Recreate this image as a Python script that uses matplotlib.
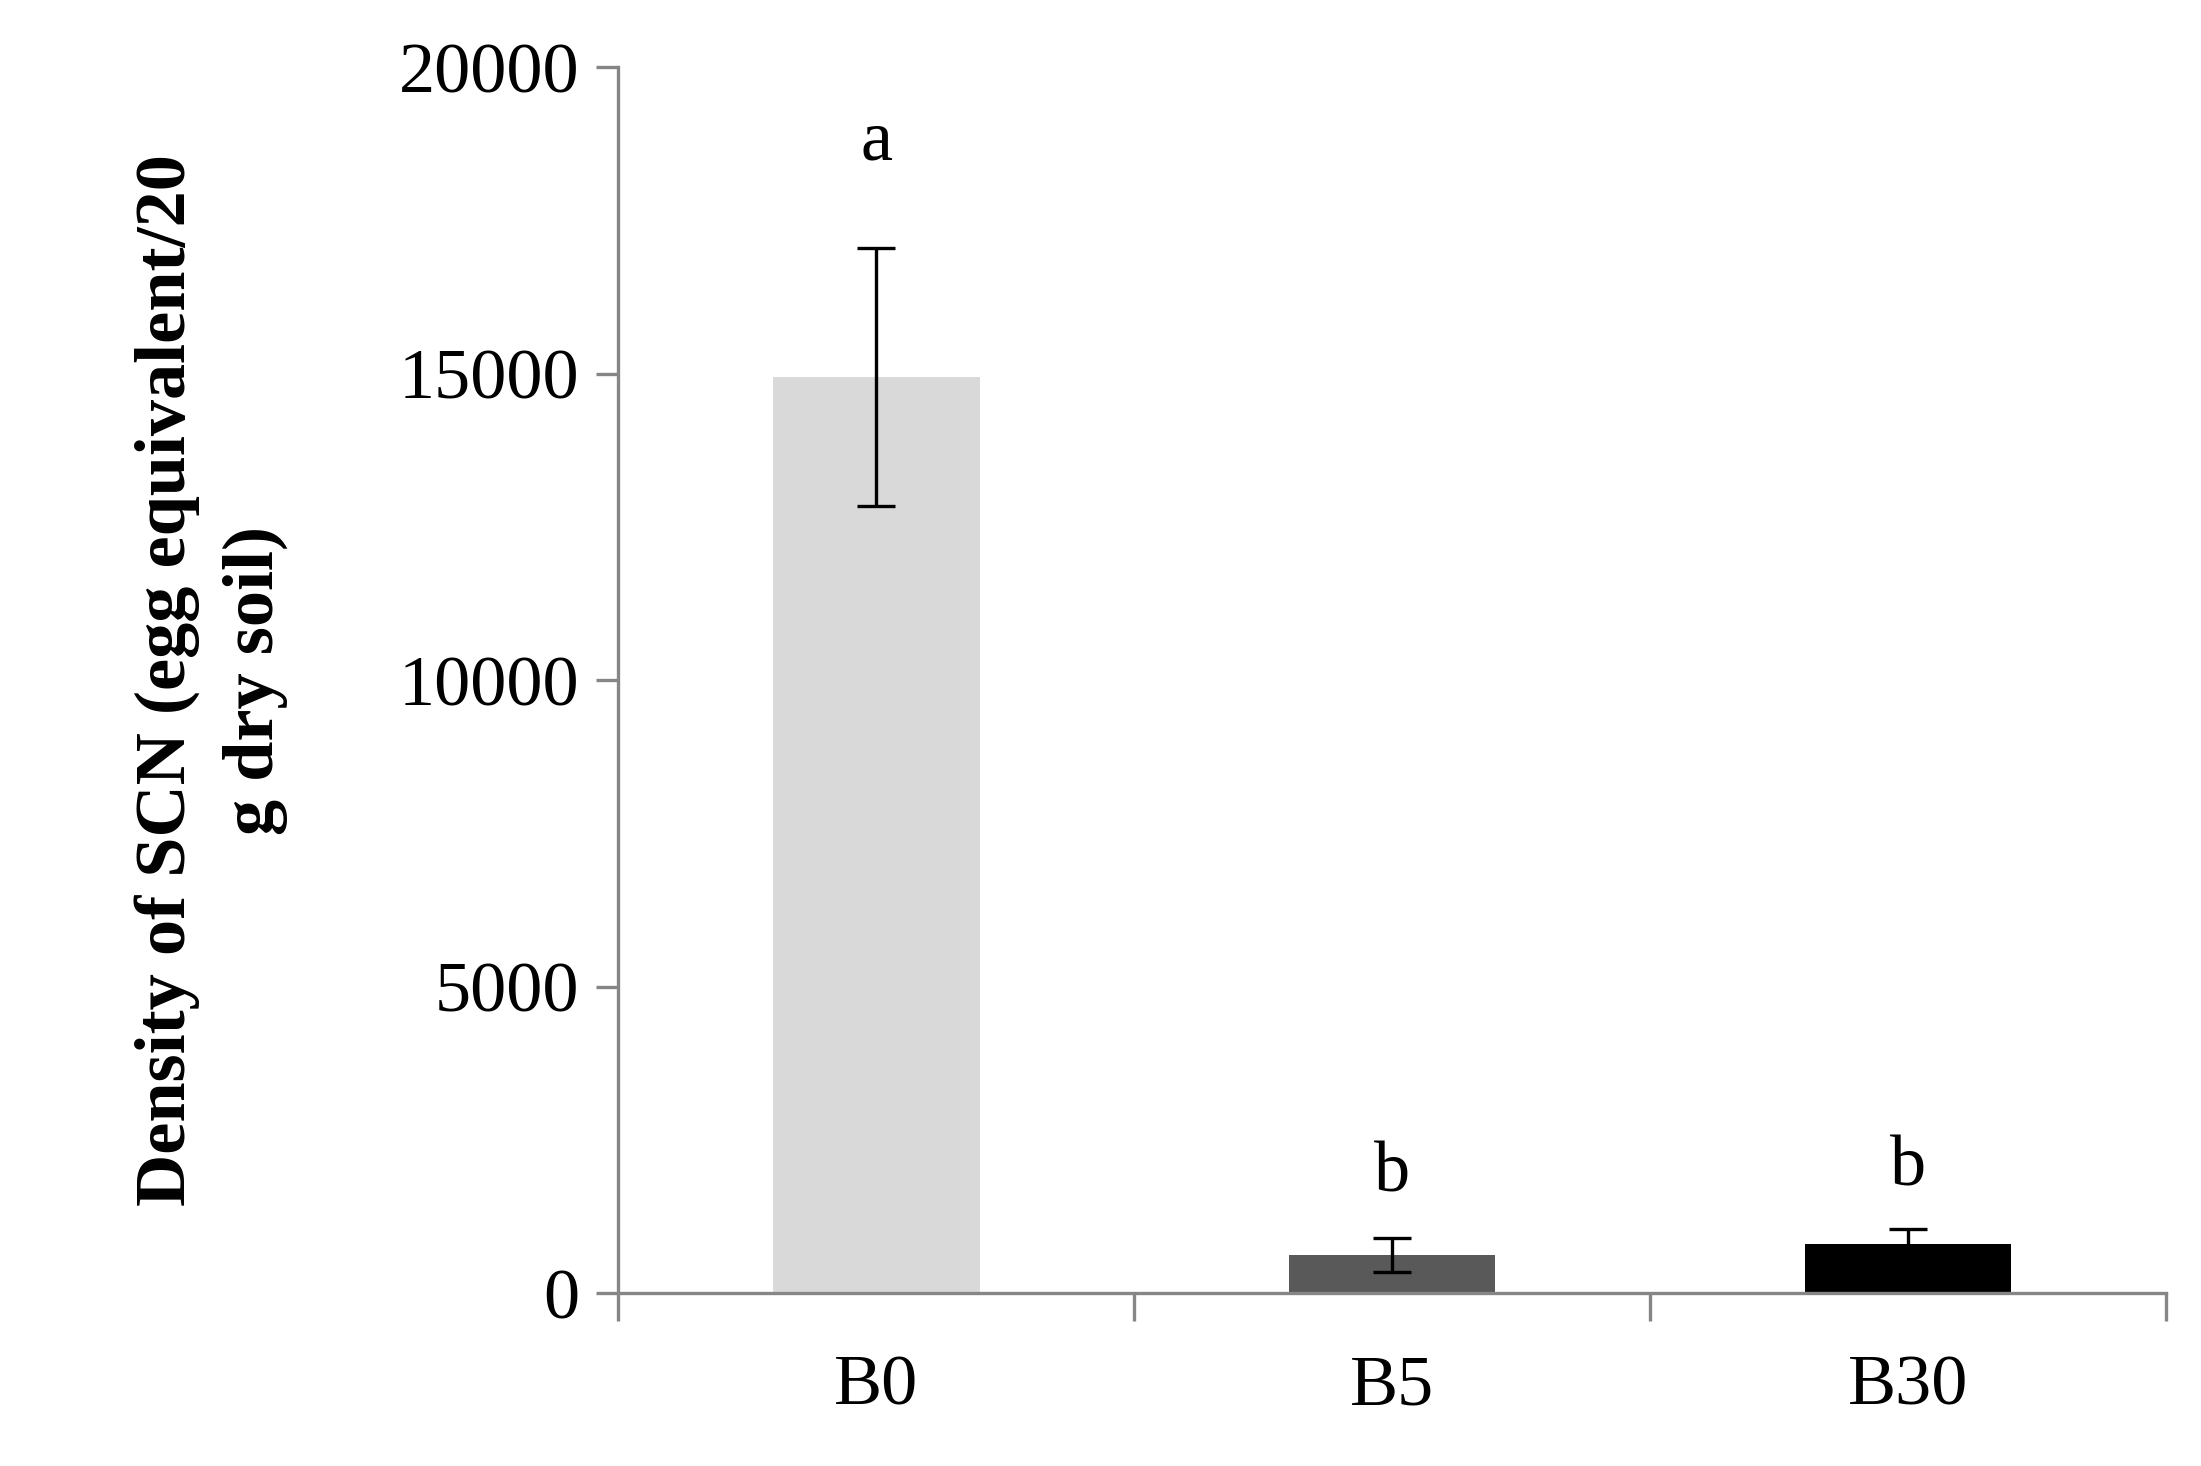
import matplotlib
matplotlib.use("Agg")
import matplotlib.pyplot as plt
import numpy as np

categories = ["B0", "B5", "B30"]
values = [14950, 620, 800]
errors = [2100, 280, 250]
letters = ["a", "b", "b"]
letter_y = [18500, 1650, 1750]
colors = ["#d9d9d9", "#595959", "#000000"]

plt.rcParams['font.family'] = ['Liberation Serif', 'DejaVu Serif']
fig = plt.figure(figsize=(11.005, 7.33), dpi=200)
ax = fig.add_axes([0.281, 0.118, 0.703, 0.836])
x = np.arange(len(categories))
ax.bar(x, values, width=0.4, color=colors, zorder=2)
ax.errorbar(x, values, yerr=errors, fmt='none', ecolor='black', elinewidth=1.2, capsize=7, capthick=1.2, zorder=3)
for xi, t, ly in zip(x, letters, letter_y):
    ax.text(xi, ly, t, ha='center', va='baseline', fontsize=26)
ax.set_xlim(-0.5, 2.5)
ax.set_ylim(0, 20000)
ax.set_yticks([0, 5000, 10000, 15000, 20000])
ax.set_xticks(x)
ax.set_xticklabels(categories)
ax.set_xticks([-0.5, 0.5, 1.5, 2.5], minor=True)
ax.tick_params(axis='x', which='major', length=0, pad=22, labelsize=26)
ax.tick_params(axis='x', which='minor', length=10, color='#868686', width=1.2)
ax.tick_params(axis='y', length=8, color='#868686', width=1.2, labelsize=26, pad=6)
for s in ['top', 'right']:
    ax.spines[s].set_visible(False)
for s in ['left', 'bottom']:
    ax.spines[s].set_color('#868686')
    ax.spines[s].set_linewidth(1.2)
ax.set_ylabel("Density of SCN (egg equivalent/20\ng dry soil)", fontsize=26, fontweight='bold', labelpad=40, linespacing=1.45)
fig.savefig("out.png", dpi=200)
